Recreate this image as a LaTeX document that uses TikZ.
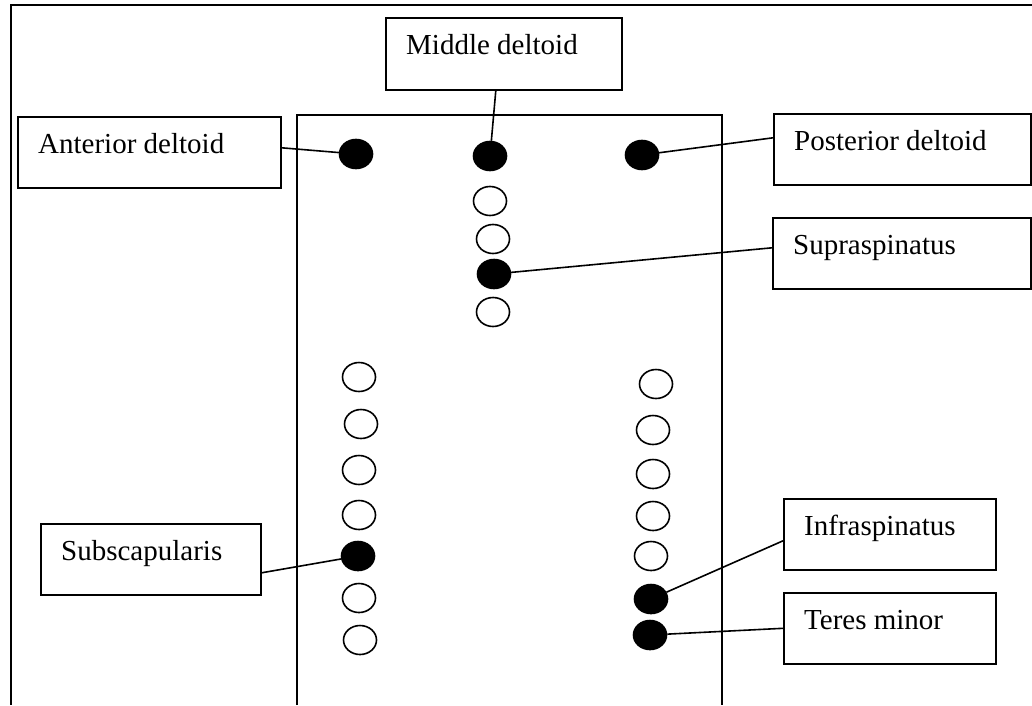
\documentclass[tikz,border=0pt]{standalone}
\usepackage{fontspec}
\setmainfont{Liberation Serif}
\usetikzlibrary{shapes.geometric, calc}
\tikzset{
  lbox/.style  = {rectangle, draw, line width=1.6pt, inner sep=0pt,
                  anchor=north west},
  ltext/.style = {anchor=base west, inner sep=0pt,
                  font=\fontsize{29}{34}\selectfont},
  dot/.style   = {ellipse, draw, line width=1.6pt, inner sep=0pt,
                  minimum width=33pt, minimum height=29pt},
  fdot/.style  = {dot, fill=black},
  odot/.style  = {dot, fill=white},
  conn/.style  = {line width=1.6pt},
  frame/.style = {line width=1.6pt},
}

\begin{document}
\begin{tikzpicture}[x=1pt, y=-1pt]
  \useasboundingbox (0,0) rectangle (1032,705);

  % outer and inner frame
  \draw[frame] (1032,5) -- (11,5) -- (11,705);
  \draw[frame] (297,705) -- (297,115) -- (722,115) -- (722,705);

  % label boxes
  \node[lbox, minimum width=263, minimum height=71] (ant) at (17,116) {};
  \node[ltext] at ($(ant.north west)+(21,37)$) {Anterior deltoid};
  \node[lbox, minimum width=236, minimum height=72] (mid) at (385,17) {};
  \node[ltext] at ($(mid.north west)+(21,37)$) {Middle deltoid};
  \node[lbox, minimum width=257, minimum height=71] (post) at (773,113) {};
  \node[ltext] at ($(post.north west)+(21,37)$) {Posterior deltoid};
  \node[lbox, minimum width=258, minimum height=71] (sup) at (772,217) {};
  \node[ltext] at ($(sup.north west)+(21,37)$) {Supraspinatus};
  \node[lbox, minimum width=220, minimum height=71] (sub) at (40,523) {};
  \node[ltext] at ($(sub.north west)+(21,37)$) {Subscapularis};
  \node[lbox, minimum width=212, minimum height=71] (inf) at (783,498) {};
  \node[ltext] at ($(inf.north west)+(21,37)$) {Infraspinatus};
  \node[lbox, minimum width=212, minimum height=71] (ter) at (783,592) {};
  \node[ltext] at ($(ter.north west)+(21,37)$) {Teres minor};

  % open electrode sites
  \foreach \x/\y in {490/201, 493/239, 493/312,
                     359/377, 361/424, 359/470, 359/515, 359/598, 360/640,
                     656/384, 653/430, 653/474, 653/516, 651/556}
    \node[odot] at (\x,\y) {};

  % recorded sites
  \node[fdot] (antd)  at (356,154) {};
  \node[fdot] (midd)  at (490,156) {};
  \node[fdot] (postd) at (642,155) {};
  \node[fdot] (supd)  at (494,274) {};
  \node[fdot] (subd)  at (358,556) {};
  \node[fdot] (infd)  at (651,599) {};
  \node[fdot] (terd)  at (650,635) {};

  % connectors
  \draw[conn] (antd)  -- ([yshift=4.5pt]ant.east);
  \draw[conn] (midd)  -- ([xshift=-8pt]mid.south);
  \draw[conn] (postd) -- ([yshift=11.5pt]post.west);
  \draw[conn] (supd)  -- ([yshift=5.5pt]sup.west);
  \draw[conn] (subd)  -- ([yshift=-13.5pt]sub.east);
  \draw[conn] (infd)  -- ([yshift=-6.5pt]inf.west);
  \draw[conn] (terd)  -- (ter.west);
\end{tikzpicture}
\end{document}
